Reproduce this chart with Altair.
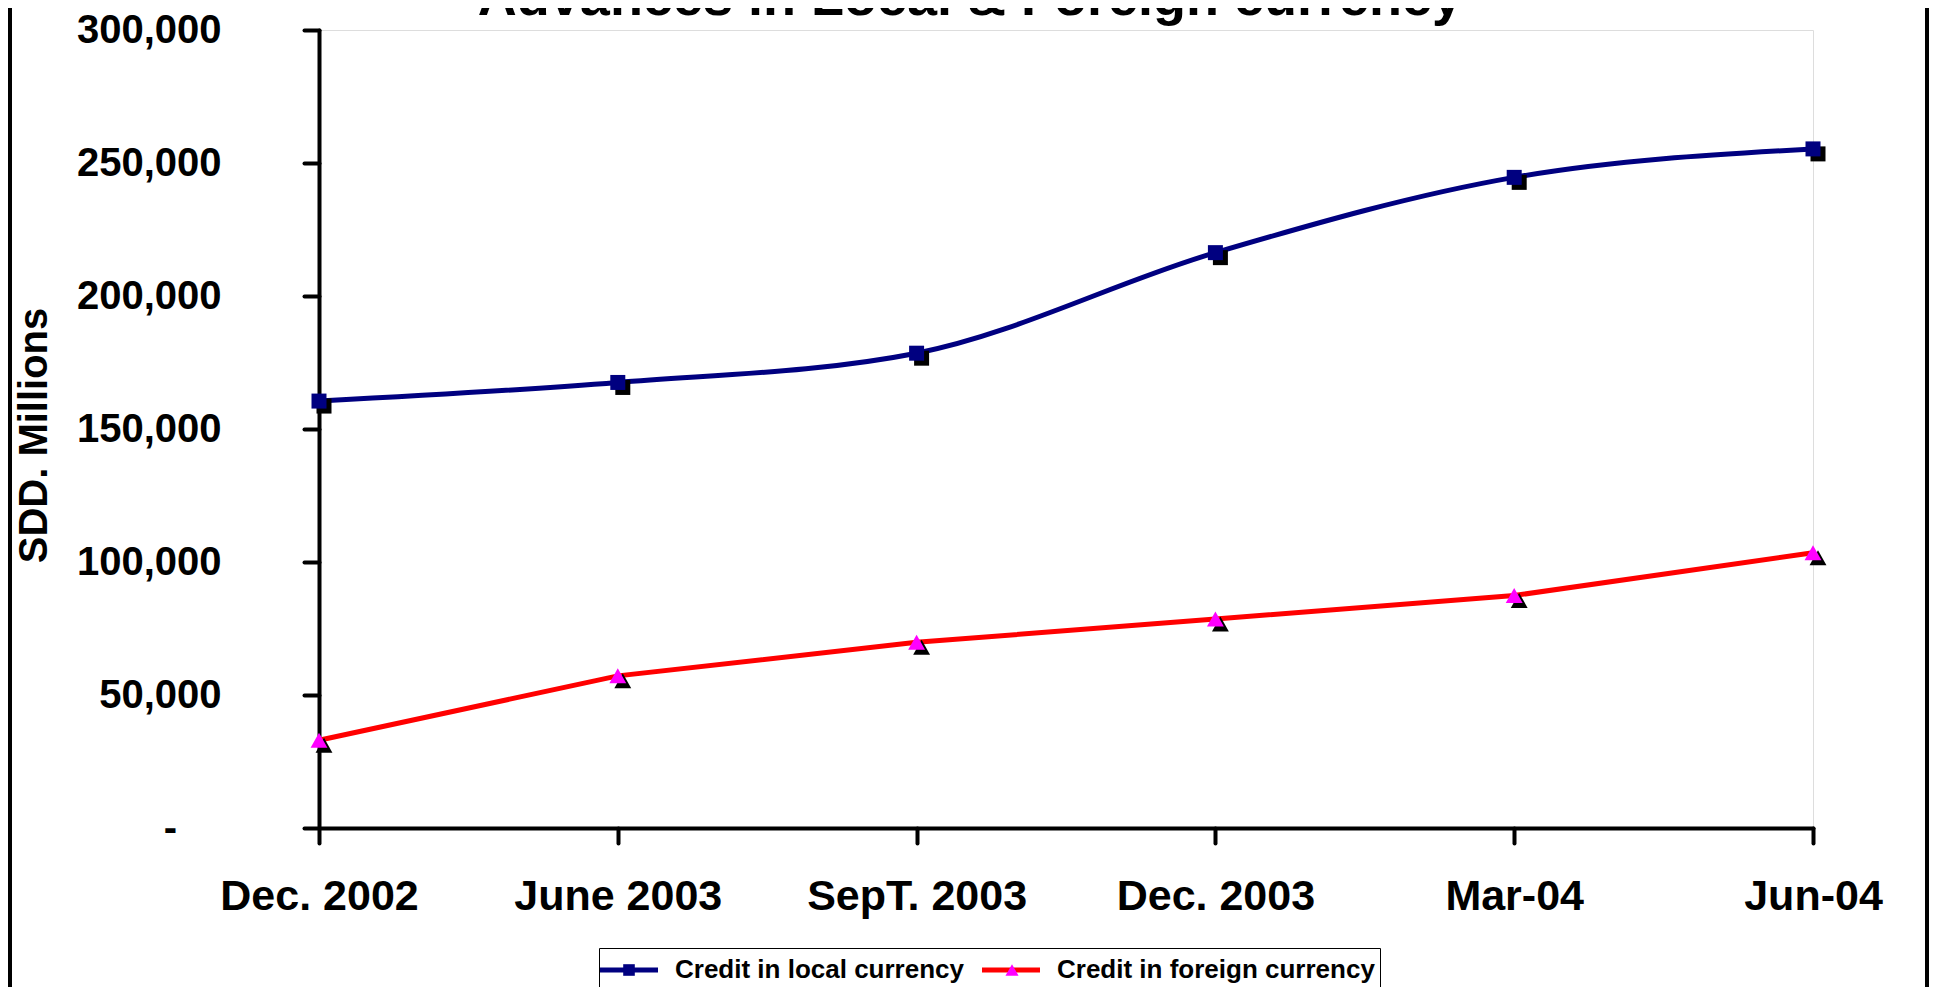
import altair as alt
import pandas as pd

FONT = "Liberation Sans"

categories = ["Dec. 2002", "June 2003", "SepT. 2003", "Dec. 2003", "Mar-04", "Jun-04"]
local_values = [160500, 167500, 178500, 216300, 244600, 255300]
foreign_values = [33000, 57200, 69800, 78600, 87400, 103500]
series_names = ["Credit in local currency", "Credit in foreign currency"]
line_colors = ["#000080", "#FF0000"]
marker_colors = ["#000080", "#FF00FF"]
y_ticks = [0, 50000, 100000, 150000, 200000, 250000, 300000]
title_text = ["Advances in Local & Foreign currency"]

SQ = "M-0.4,-0.4H0.4V0.4H-0.4Z"
TRI = "M0,-0.4L0.45,0.4H-0.45Z"

rows = []
for c, v in zip(categories, local_values):
    rows.append({"period": c, "value": v, "series": series_names[0]})
for c, v in zip(categories, foreign_values):
    rows.append({"period": c, "value": v, "series": series_names[1]})
df = pd.DataFrame(rows)
df["series_m"] = df["series"]

x_enc = alt.X(
    "period:N", sort=categories,
    scale=alt.Scale(type="point", padding=0),
    axis=alt.Axis(title=None, labelAngle=0, labelFont=FONT, labelFontSize=43,
                  labelFontWeight="bold", labelColor="black", labelPadding=32,
                  labelLimit=0,
                  tickSize=15, tickWidth=4, tickColor="black", tickCap="round",
                  domainWidth=4, domainColor="black", domainCap="round",
                  labelOverlap=False, labelFlush=False, grid=False),
)
y_enc = alt.Y(
    "value:Q",
    scale=alt.Scale(domain=[0, 300000], nice=False, zero=True),
    axis=alt.Axis(title="SDD. Millions", values=y_ticks,
                  labelExpr="datum.value == 0 ? '-\u00a0\u00a0\u00a0\u00a0\u200b' : format(datum.value, ',')",
                  labelFont=FONT, labelFontSize=40, labelFontWeight="bold",
                  labelColor="black", labelPadding=83, labelLimit=0,
                  tickSize=15, tickWidth=4, tickColor="black", tickCap="round",
                  domainWidth=4, domainColor="black", domainCap="round",
                  grid=False, titleFont=FONT, titleFontSize=40, titleFontWeight="bold",
                  titleColor="black", titleAngle=270, titleX=-285, titleY=405,
                  titleAlign="center", titleBaseline="middle"),
)

legend_common = dict(title=None, orient="none", legendY=918,
                     direction="horizontal", symbolSize=841, symbolStrokeWidth=5,
                     labelFont=FONT, labelFontSize=26, labelFontWeight="bold",
                     labelColor="black", labelOffset=29, columnPadding=8,
                     padding=5, symbolOffset=8, labelLimit=0, symbolOpacity=1)

# legend with the line segments and the labels (drawn first, with the frame)
legend_lines = alt.Legend(symbolType="M-2,0H2", strokeColor="black", fillColor="white",
                          legendX=280, **legend_common)
# marker-only legends laid on top of each line symbol
legend_sq = alt.Legend(symbolType=SQ, strokeColor="transparent", fillColor="transparent",
                       symbolStrokeColor="transparent", labelOpacity=0,
                       legendX=280, **legend_common)
legend_tri = alt.Legend(strokeColor="transparent", fillColor="transparent",
                        symbolStrokeColor="transparent", symbolFillColor=marker_colors[1],
                        labelOpacity=0, legendX=663, **legend_common)

base = alt.Chart(df)
local = base.transform_filter(alt.datum.series == series_names[0])
foreign = base.transform_filter(alt.datum.series == series_names[1])

stroke_enc = alt.Stroke("series:N", scale=alt.Scale(domain=series_names, range=line_colors),
                        legend=legend_lines)

line_local = local.mark_line(strokeWidth=5, interpolate="monotone").encode(
    x=x_enc, y=y_enc, stroke=stroke_enc)
line_foreign = foreign.mark_line(strokeWidth=5).encode(
    x=x_enc, y=y_enc, stroke=stroke_enc)

shadow_local = local.mark_point(
    shape=SQ, size=1406, filled=True, color="black", opacity=1, strokeWidth=0,
    xOffset=5, yOffset=5).encode(x=x_enc, y=y_enc)
shadow_foreign = foreign.mark_point(
    shape=TRI, size=1406, filled=True, color="black", opacity=1, strokeWidth=0,
    xOffset=5, yOffset=5).encode(x=x_enc, y=y_enc)

markers_local = local.mark_point(shape=SQ, size=1406, filled=True, opacity=1,
                                 strokeWidth=0).encode(
    x=x_enc, y=y_enc,
    fill=alt.Fill("series_m:N",
                  scale=alt.Scale(domain=[series_names[0]], range=[marker_colors[0]]),
                  legend=legend_sq),
)
markers_foreign = foreign.mark_point(size=1406, filled=True, opacity=1, strokeWidth=0,
                                     fill=marker_colors[1]).encode(
    x=x_enc, y=y_enc,
    shape=alt.Shape("series_m:N",
                    scale=alt.Scale(domain=[series_names[1]], range=[TRI]),
                    legend=legend_tri),
)

title_mark = alt.Chart(pd.DataFrame({"t": title_text})).mark_text(
    font=FONT, fontSize=54, fontWeight="bold", color="black", align="center",
    baseline="alphabetic").encode(text="t:N", x=alt.value(651), y=alt.value(-15))

edge = pd.DataFrame({"k": [0]})
border_left = alt.Chart(edge).mark_rule(color="black", strokeWidth=4).encode(
    x=alt.value(-309), y=alt.value(-40), y2=alt.value(1000))
border_right = alt.Chart(edge).mark_rule(color="black", strokeWidth=4).encode(
    x=alt.value(1608), y=alt.value(-40), y2=alt.value(1000))

chart = alt.layer(
    border_left, border_right, title_mark, line_local, line_foreign,
    shadow_local, shadow_foreign, markers_local, markers_foreign
).properties(
    width=1494, height=798,
    padding={"left": 311, "top": 22, "right": 116, "bottom": 159},
    autosize=alt.AutoSizeParams(type="none"),
).configure_view(stroke=None).configure(background="white")

chart.save("out.html", embed_options={"renderer": "svg", "actions": False})
